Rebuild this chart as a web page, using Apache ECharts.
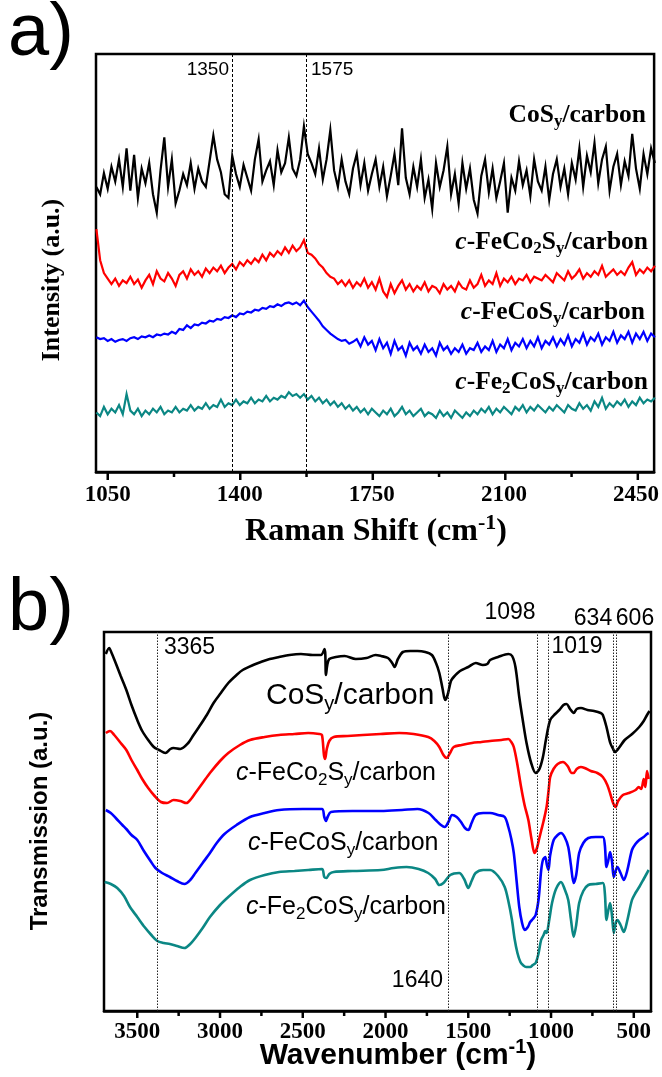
<!DOCTYPE html>
<html lang="en">
<head>
<meta charset="UTF-8">
<title>Raman / FTIR</title>
<script src="https://cdn.jsdelivr.net/npm/echarts@6/dist/echarts.min.js"></script>
<style>
  html, body { margin: 0; padding: 0; background: #fff; }
  #main { width: 662px; height: 1077px; }
</style>
</head>
<body>
<div id="main"></div>
<script>
  // a) Raman spectra, one reading every 10 cm-1 starting at 1020
  var ramanStart = 1020, ramanStep = 10;
  var ramanTicks = [1050, 1400, 1750, 2100, 2450];
  var ramanMinor = [1225, 1575, 1925, 2275];
  var ramanGuides = [1380, 1575];
  var ramanGuideText = ['1350', '1575'];

  var ramanCoS = [
    286,278,301,284,308,292,316,286,328,282,
    321,274,306,290,312,278,258,304,340,286,
    316,268,282,300,288,312,284,306,292,286,
    314,342,316,302,278,274,320,300,286,310,
    296,282,316,338,292,304,314,288,326,302,
    312,340,306,298,316,352,322,312,300,328,
    294,316,348,304,286,316,292,278,306,322,
    288,312,282,300,316,286,308,276,298,322,
    288,350,296,278,308,286,316,274,294,262,
    312,286,304,330,278,300,268,312,284,306,
    272,257,298,316,280,306,274,292,312,258,
    296,282,314,288,304,276,316,292,282,308,
    272,300,316,286,306,278,312,294,328,286,
    320,302,334,290,316,330,282,308,322,288,
    314,298,344,306,284,322,300,328,312
  ];
  var ramanFeCo2 = [
    240,206,192,186,180,186,178,184,181,188,
    180,185,176,184,190,180,194,186,183,192,
    186,178,190,194,186,196,190,194,188,197,
    192,198,194,200,192,198,202,196,204,200,
    206,202,208,204,212,206,214,210,216,212,
    220,214,222,216,220,228,214,212,208,202,
    198,192,188,186,180,184,178,184,176,182,
    178,186,176,182,174,186,172,166,180,170,
    178,184,174,180,172,178,174,182,172,178,
    176,170,180,174,178,172,182,176,174,184,
    176,180,190,178,184,180,192,178,186,182,
    188,180,186,184,190,182,188,186,184,190,
    186,182,192,188,184,194,186,190,196,186,
    192,188,194,190,200,188,192,196,190,194,
    190,198,204,190,196,192,198,194,200
  ];
  var ramanFeCo = [
    122,120,121,118,120,117,119,120,118,121,
    122,120,123,122,124,122,125,124,126,125,
    128,126,131,130,135,132,136,135,138,137,
    140,139,142,141,144,143,146,144,148,147,
    150,149,152,151,154,153,156,155,158,156,
    159,160,158,160,157,162,155,150,145,140,
    134,130,126,123,120,118,119,115,117,120,
    112,122,114,118,108,120,110,116,104,118,
    108,112,102,116,108,112,104,114,106,110,
    102,116,108,112,104,110,106,114,104,110,
    108,116,106,112,108,118,106,114,110,120,
    108,116,112,120,110,118,112,122,110,118,
    114,122,112,120,114,124,112,120,116,126,
    114,122,118,126,114,122,118,128,116,124,
    120,128,116,126,120,128,118,126,122
  ];
  var ramanFe2Co = [
    40,36,46,38,44,40,48,38,60,42,
    38,44,36,42,38,44,40,46,38,42,
    40,46,40,44,42,48,42,46,44,50,
    44,48,46,54,46,50,48,54,48,52,
    50,56,50,54,52,58,52,56,54,58,
    56,62,58,60,56,60,54,58,52,56,
    50,54,48,52,46,50,44,48,42,46,
    40,44,38,44,40,36,42,38,44,36,
    40,46,38,42,36,40,44,36,40,38,
    34,42,36,40,34,42,38,34,40,36,
    42,38,44,40,46,38,44,40,46,42,
    38,46,42,48,40,46,42,48,44,40,
    46,42,48,44,40,48,44,42,50,44,
    48,42,52,46,56,44,50,46,52,48,
    54,46,52,48,56,50,54,52,56
  ];

  // b) FTIR spectra, [wavenumber, transmission]
  var ftirTicks = [3500, 3000, 2500, 2000, 1500, 1000, 500];
  var ftirMinor = [3250, 2750, 2250, 1750, 1250, 750];
  var ftirGuides = [3377, 1621, 1086, 1014, 627, 605];

  var ftirCoS = [
    [3690,357],[3670,363],[3655,358],[3640,352],[3621,344],[3600,335],[3566,321],[3535,306],
    [3500,291],[3470,280],[3434,271],[3400,264],[3368,261],[3330,258],[3300,262],[3281,263],
    [3240,262],[3192,268],[3160,276],[3127,284],[3080,296],[3039,308],[2995,318],[2950,328],
    [2900,336],[2863,341],[2800,346],[2753,349],[2700,352],[2643,354],[2580,356],[2511,357],
    [2440,356],[2390,356],[2368,362],[2360,336],[2352,346],[2340,352],[2300,354],[2247,355],
    [2180,352],[2115,353],[2060,356],[2027,355],[1985,353],[1960,348],[1945,344],[1925,352],
    [1895,359],[1850,360],[1807,360],[1760,359],[1720,356],[1695,348],[1675,338],[1655,322],
    [1640,311],[1625,316],[1605,330],[1588,334],[1550,340],[1500,344],[1455,348],[1412,346],
    [1385,347],[1368,351],[1320,354],[1258,357],[1235,355],[1215,344],[1192,314],[1170,290],
    [1148,268],[1120,248],[1093,238],[1070,242],[1049,254],[1030,272],[1005,291],[975,297],
    [950,301],[925,306],[906,307],[885,302],[863,298],[845,302],[819,303],[780,301],
    [740,300],[700,298],[687,296],[665,284],[642,268],[625,262],[614,259],[590,263],
    [555,271],[510,277],[467,284],[440,290],[420,296],[405,300]
  ];
  var ftirFeCo2 = [
    [3690,278],[3665,280],[3639,276],[3600,268],[3566,261],[3535,251],[3500,241],[3470,232],
    [3434,223],[3395,215],[3357,209],[3320,208],[3281,211],[3240,210],[3203,208],[3175,212],
    [3149,218],[3105,228],[3061,238],[3000,250],[2950,258],[2880,266],[2819,271],[2730,274],
    [2643,276],[2550,277],[2467,278],[2400,277],[2384,276],[2372,256],[2365,252],[2355,262],
    [2340,270],[2313,274],[2230,275],[2137,276],[2030,277],[1917,278],[1830,277],[1742,274],
    [1705,270],[1675,264],[1650,256],[1631,253],[1610,258],[1588,264],[1540,266],[1478,268],
    [1420,269],[1368,270],[1300,271],[1258,272],[1240,269],[1225,264],[1205,248],[1181,224],
    [1160,206],[1137,191],[1118,172],[1100,158],[1085,163],[1072,172],[1060,180],[1045,190],
    [1027,204],[1015,220],[1005,234],[985,242],[960,247],[928,249],[900,245],[875,238],
    [863,238],[845,242],[820,244],[797,243],[760,240],[720,238],[687,234],[660,226],
    [640,216],[625,208],[610,204],[595,210],[566,216],[530,218],[489,221],[470,224],
    [455,222],[440,232],[430,224],[420,240],[410,232]
  ];
  var ftirFeCo = [
    [3690,201],[3660,198],[3630,193],[3590,186],[3566,182],[3535,176],[3500,171],[3460,160],
    [3420,150],[3390,143],[3350,138],[3303,134],[3260,130],[3215,127],[3180,131],[3149,138],
    [3105,148],[3061,158],[3020,168],[2973,177],[2900,186],[2819,194],[2730,198],[2643,201],
    [2500,202],[2384,202],[2370,194],[2360,190],[2350,194],[2330,199],[2200,200],[2027,200],
    [1900,201],[1807,202],[1740,198],[1697,191],[1665,186],[1642,184],[1620,189],[1598,196],
    [1570,194],[1544,189],[1520,183],[1500,181],[1480,188],[1456,196],[1410,198],[1368,198],
    [1320,196],[1280,194],[1258,184],[1240,172],[1225,158],[1208,130],[1192,104],[1175,88],
    [1159,81],[1140,84],[1126,89],[1110,92],[1093,96],[1075,112],[1060,140],[1049,151],
    [1035,154],[1025,146],[1016,141],[1005,156],[984,171],[960,176],[940,178],[918,174],
    [896,164],[880,146],[863,128],[848,136],[830,158],[805,168],[775,173],[730,174],
    [687,174],[675,166],[665,144],[655,150],[643,159],[632,150],[621,134],[610,140],
    [599,144],[580,138],[560,131],[540,140],[511,161],[490,167],[467,171],[440,174],
    [420,177],[410,178]
  ];
  var ftirFe2Co = [
    [3697,129],[3660,127],[3621,123],[3580,115],[3544,104],[3500,94],[3456,84],[3415,76],
    [3379,70],[3340,68],[3303,67],[3260,65],[3215,63],[3180,67],[3149,73],[3105,83],
    [3061,94],[3000,106],[2950,114],[2880,124],[2819,131],[2730,136],[2643,139],[2550,140],
    [2467,141],[2384,142],[2370,134],[2357,133],[2340,137],[2313,139],[2200,140],[2027,141],
    [1950,143],[1873,144],[1800,142],[1742,138],[1700,132],[1675,126],[1650,128],[1609,136],
    [1555,138],[1525,132],[1500,123],[1480,130],[1456,138],[1410,141],[1368,141],[1320,135],
    [1280,124],[1258,110],[1236,91],[1220,72],[1203,58],[1185,49],[1170,46],[1150,44],
    [1126,44],[1110,46],[1093,48],[1075,58],[1060,71],[1045,76],[1035,80],[1027,78],
    [1010,92],[994,108],[970,122],[940,129],[918,122],[896,111],[880,92],[863,74],
    [848,86],[830,108],[805,120],[775,126],[730,127],[687,128],[675,118],[665,91],
    [655,100],[643,108],[632,96],[621,78],[610,88],[599,91],[580,86],[560,79],
    [540,90],[511,111],[490,118],[467,124],[440,132],[420,138],[410,141]
  ];

  var TEAL = '#0b8784';
  var serif = "'Liberation Serif','Times New Roman',serif";
  var sans = "'Liberation Sans',Arial,sans-serif";

  function toPairs(arr) {
    return arr.map(function (v, i) { return [ramanStart + i * ramanStep, v]; });
  }

  // rich text pieces: normal, italic, subscript, superscript
  function richSet(family, weight, size) {
    var sub = Math.round(size * 0.68);
    return {
      n: { fontFamily: family, fontWeight: weight, fontSize: size, fill: '#000' },
      i: { fontFamily: family, fontWeight: weight, fontSize: size, fontStyle: 'italic', fill: '#000' },
      s: { fontFamily: family, fontWeight: weight, fontSize: sub, fill: '#000', padding: [Math.round(size * 0.55), 0, 0, 0] },
      u: { fontFamily: family, fontWeight: weight, fontSize: sub, fill: '#000', padding: [0, 0, Math.round(size * 0.55), 0] }
    };
  }

  function label(x, y, text, rich, align, rotation) {
    return {
      type: 'text', x: x, y: y, rotation: rotation || 0, z: 20, silent: true,
      style: {
        text: text, rich: rich,
        align: align || 'left', textAlign: align || 'left',
        verticalAlign: 'middle', textVerticalAlign: 'middle'
      }
    };
  }

  var richA = richSet(serif, 'bold', 25.5);
  var richB = richSet(sans, 'normal', 25);
  var richBig = richSet(sans, 'normal', 30);
  var richNum = { n: { fontFamily: sans, fontSize: 19, fill: '#000' } };
  var richNumB = { n: { fontFamily: sans, fontSize: 23, fill: '#000' } };

  var graphics = [
    label(8, 35, '{n|a)}', { n: { fontFamily: sans, fontSize: 74, fill: '#000' } }),
    label(8, 610, '{n|b)}', { n: { fontFamily: sans, fontSize: 74, fill: '#000' } }),

    label(229, 70, '{n|' + ramanGuideText[0] + '}', richNum, 'right'),
    label(311, 70, '{n|' + ramanGuideText[1] + '}', richNum, 'left'),

    label(646, 115, '{n|CoS}{s|y}{n|/carbon}', richA, 'right'),
    label(648, 242, '{i|c}{n|-FeCo}{s|2}{n|S}{s|y}{n|/carbon}', richA, 'right'),
    label(645, 312, '{i|c}{n|-FeCoS}{s|y}{n|/carbon}', richA, 'right'),
    label(648, 382, '{i|c}{n|-Fe}{s|2}{n|CoS}{s|y}{n|/carbon}', richA, 'right'),

    label(376, 532, '{n|Raman Shift (cm}{u|-1}{n|)}', richSet(serif, 'bold', 32), 'center'),
    label(52, 280, '{n|Intensity (a.u.)}', richSet(serif, 'bold', 26), 'center', Math.PI / 2),

    label(164, 648, '{n|3365}', richNumB),
    label(510, 613, '{n|1098}', richNumB, 'center'),
    label(577, 647, '{n|1019}', richNumB, 'center'),
    label(593, 619, '{n|634}', richNumB, 'center'),
    label(635, 619, '{n|606}', richNumB, 'center'),
    label(443, 981, '{n|1640}', richNumB, 'right'),

    label(266, 696, '{n|CoS}{s|y}{n|/carbon}', richBig),
    label(236, 773, '{i|c}{n|-FeCo}{s|2}{n|S}{s|y}{n|/carbon}', richB),
    label(248, 843, '{i|c}{n|-FeCoS}{s|y}{n|/carbon}', richB),
    label(246, 907, '{i|c}{n|-Fe}{s|2}{n|CoS}{s|y}{n|/carbon}', richB),

    label(398, 1056, '{n|Wavenumber (cm}{u|-1}{n|)}', richSet(sans, 'bold', 30), 'center'),
    label(40, 821, '{n|Transmission (a.u.)}', richSet(sans, 'bold', 24), 'center', Math.PI / 2)
  ];

  var tickLabel = {
    color: '#000', fontFamily: serif, fontWeight: 'bold', fontSize: 23,
    formatter: function (v) { return String(v); }
  };

  function xAxisFor(grid, min, max, ticks, inverse, margin) {
    return {
      type: 'value', gridIndex: grid, min: min, max: max, inverse: inverse, position: 'bottom',
      axisLine: { show: true, onZero: false, lineStyle: { color: '#000', width: 2.5 } },
      axisTick: { show: false },
      axisLabel: Object.assign({ show: true, customValues: ticks, margin: margin }, tickLabel),
      splitLine: { show: false }
    };
  }
  // thin strip under each panel that only carries the tick marks
  function stripAxis(grid, min, max, inverse) {
    return { type: 'value', gridIndex: grid, min: min, max: max, inverse: inverse, show: false };
  }
  function tickMarks(xIdx, yIdx, values, yMid, len) {
    return {
      type: 'scatter', xAxisIndex: xIdx, yAxisIndex: yIdx, silent: true, z: 6,
      data: values.map(function (v) { return [v, yMid]; }),
      symbol: 'rect', symbolSize: [2.5, len],
      itemStyle: { color: '#000', opacity: 1 }
    };
  }

  function ramanLine(name, data, color) {
    return {
      name: name, type: 'line', xAxisIndex: 0, yAxisIndex: 0, data: toPairs(data),
      showSymbol: false, silent: true,
      lineStyle: { color: color, width: 2.2, join: 'miter' }, itemStyle: { color: color }, z: 3
    };
  }
  function ftirLine(name, data, color) {
    return {
      name: name, type: 'line', xAxisIndex: 1, yAxisIndex: 1, data: data,
      smooth: 0.3, showSymbol: false, silent: true,
      lineStyle: { color: color, width: 2.6 }, itemStyle: { color: color }, z: 3
    };
  }

  var chart = echarts.init(document.getElementById('main'), null, { renderer: 'canvas' });
  chart.setOption({
    animation: false,
    backgroundColor: '#fff',
    grid: [
      { left: 96, top: 54, width: 560, height: 418, show: true, borderColor: '#000', borderWidth: 2.5, backgroundColor: 'transparent' },
      { left: 104, top: 632, width: 547, height: 379, show: true, borderColor: '#000', borderWidth: 2.5, backgroundColor: 'transparent' },
      { left: 96, top: 472, width: 560, height: 8 },
      { left: 104, top: 1011, width: 547, height: 7 }
    ],
    xAxis: [
      xAxisFor(0, 1019, 2498, ramanTicks, false, 12),
      xAxisFor(1, 396, 3701, ftirTicks, true, 10),
      stripAxis(2, 1019, 2498, false),
      stripAxis(3, 396, 3701, true)
    ],
    yAxis: [
      { type: 'value', gridIndex: 0, min: -25, max: 431, show: false },
      { type: 'value', gridIndex: 1, min: 0, max: 379, show: false },
      { type: 'value', gridIndex: 2, min: 0, max: 8, show: false },
      { type: 'value', gridIndex: 3, min: 0, max: 7, show: false }
    ],
    series: [
      {
        type: 'line', xAxisIndex: 0, yAxisIndex: 0, data: [], z: 1, silent: true,
        markLine: {
          symbol: 'none', silent: true, animation: false, label: { show: false },
          lineStyle: { color: '#000', width: 1, type: [3, 2] },
          data: ramanGuides.map(function (v) { return { xAxis: v }; })
        }
      },
      {
        type: 'line', xAxisIndex: 1, yAxisIndex: 1, data: [], z: 1, silent: true,
        markLine: {
          symbol: 'none', silent: true, animation: false, label: { show: false },
          lineStyle: { color: '#222', width: 1, type: [1.5, 1.5] },
          data: ftirGuides.map(function (v) { return { xAxis: v }; })
        }
      },
      tickMarks(2, 2, ramanTicks, 4, 8),
      tickMarks(2, 2, ramanMinor, 5.5, 5),
      tickMarks(3, 3, ftirTicks, 3.5, 7),
      tickMarks(3, 3, ftirMinor, 4.5, 5),
      ramanLine('c-Fe2CoSy/carbon', ramanFe2Co, TEAL),
      ramanLine('c-FeCoSy/carbon', ramanFeCo, '#0000ff'),
      ramanLine('c-FeCo2Sy/carbon', ramanFeCo2, '#ff0000'),
      ramanLine('CoSy/carbon', ramanCoS, '#000'),
      ftirLine('c-Fe2CoSy/carbon', ftirFe2Co, TEAL),
      ftirLine('c-FeCoSy/carbon', ftirFeCo, '#0000ff'),
      ftirLine('c-FeCo2Sy/carbon', ftirFeCo2, '#ff0000'),
      ftirLine('CoSy/carbon', ftirCoS, '#000')
    ],
    graphic: graphics
  });
</script>
</body>
</html>
